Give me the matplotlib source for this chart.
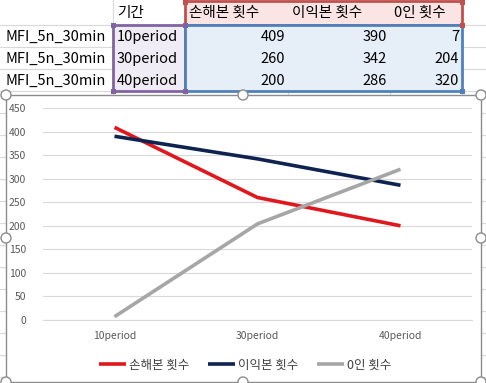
import matplotlib
matplotlib.use("Agg")
import matplotlib.pyplot as plt
import matplotlib.patches as mpatches

plt.rcParams["font.family"] = ["Noto Sans CJK KR", "DejaVu Sans"]

# data
row_names = ["MFI_5n_30min", "MFI_5n_30min", "MFI_5n_30min"]
periods = ["10period", "30period", "40period"]
header = ["기간", "손해본 횟수", "이익본 횟수", "0인 횟수"]
loss_counts = [409, 260, 200]
profit_counts = [390, 342, 286]
zero_counts = [7, 204, 320]

series_names = header[1:]
series_values = [loss_counts, profit_counts, zero_counts]
series_colors = ["#E0181E", "#0E2350", "#A6A6A6"]

W, H = 486, 383
fig = plt.figure(figsize=(W / 100, H / 100), dpi=100)
fig.patch.set_facecolor("white")

# background axes in pixel coordinates (sheet grid, table, chart frame)
bg = fig.add_axes([0, 0, 1, 1])
bg.set_xlim(0, W)
bg.set_ylim(H, 0)
bg.axis("off")

col_x = [0, 113, 185, 288, 390, 462, 486]
row_y = [0, 25, 47, 69, 91]
grid_c = "#D9D9D9"
for y in row_y[1:]:
    bg.plot([0, W], [y, y], color=grid_c, lw=0.8, zorder=1)
for x in col_x[1:-1]:
    bg.plot([x, x], [0, 95], color=grid_c, lw=0.8, zorder=1)
for y in range(113, H, 22):
    bg.plot([0, 6], [y, y], color=grid_c, lw=0.8, zorder=1)
    bg.plot([481, W], [y, y], color=grid_c, lw=0.8, zorder=1)

# selection highlights
bg.add_patch(mpatches.Rectangle((185, 1), 277, 24, facecolor="#FBE4E4",
                                edgecolor="#C0504D", lw=2, zorder=2))
bg.add_patch(mpatches.Rectangle((113, 25), 72, 66, facecolor="#F0ECF6",
                                edgecolor="#8064A2", lw=2, zorder=2))
bg.add_patch(mpatches.Rectangle((185, 25), 277, 66, facecolor="#E6EEF8",
                                edgecolor="#4F81BD", lw=2, zorder=2))
for (x, y, c) in [(185, 2, "#C0504D"), (462, 2, "#C0504D"), (462, 25, "#C0504D"),
                  (113, 25, "#8064A2"), (185, 25, "#8064A2"), (113, 91, "#8064A2"),
                  (185, 91, "#8064A2"), (462, 91, "#4F81BD")]:
    bg.add_patch(mpatches.Rectangle((x - 2.5, y - 2.5), 5, 5, facecolor=c,
                                    edgecolor="none", zorder=3))

fs = 10.5
bg.text(117, 13, header[0], fontsize=fs, va="center", ha="left", zorder=4)
for j, h in enumerate(header[1:]):
    bg.text(col_x[2 + j] + 4, 13, h, fontsize=fs, va="center", ha="left", zorder=4)
for i in range(3):
    yc = (row_y[i + 1] + row_y[i + 2]) / 2 + 1
    bg.text(5, yc, row_names[i], fontsize=fs, va="center", ha="left", zorder=4)
    bg.text(117, yc, periods[i], fontsize=fs, va="center", ha="left", zorder=4)
    for j, vals in enumerate(series_values):
        bg.text(col_x[3 + j] - 3, yc, str(vals[i]), fontsize=fs, va="center",
                ha="right", zorder=4)

# chart frame
bg.add_patch(mpatches.Rectangle((6, 95), 475, 287, facecolor="white",
                                edgecolor="#8C8C8C", lw=1, zorder=5))
for (x, y) in [(6, 95), (243, 95), (481, 95), (6, 238), (481, 238),
               (6, 382), (243, 382), (481, 382)]:
    bg.add_patch(mpatches.Circle((x, y), 5, facecolor="white",
                                 edgecolor="#8C8C8C", lw=1, zorder=6))

# chart
ax = fig.add_axes([43 / W, (H - 320) / H, 429 / W, 212 / H])
ax.set_zorder(7)
ax.patch.set_alpha(0)
xs = range(len(periods))
for name, vals, c in zip(series_names, series_values, series_colors):
    ax.plot(xs, vals, color=c, lw=2.6, label=name, solid_capstyle="butt")
ax.set_xlim(-0.5, 2.5)
ax.set_ylim(0, 450)
ax.set_yticks(range(0, 451, 50))
ax.set_xticks(list(xs))
ax.set_xticklabels(periods)
ax.grid(axis="y", color="#D9D9D9", lw=0.8)
ax.set_axisbelow(True)
for s in ["top", "right", "left"]:
    ax.spines[s].set_visible(False)
ax.spines["bottom"].set_color("#D9D9D9")
ax.tick_params(length=0, labelsize=7.5, labelcolor="#595959", pad=8)
ax.tick_params(axis="y", pad=12)
ax.legend(loc="upper center", bbox_to_anchor=(0.47, -0.13), ncol=3, frameon=False,
          fontsize=9, handlelength=2.2, handletextpad=0.2, columnspacing=1.5,
          labelcolor="#404040")

fig.savefig("out.png", dpi=100)
